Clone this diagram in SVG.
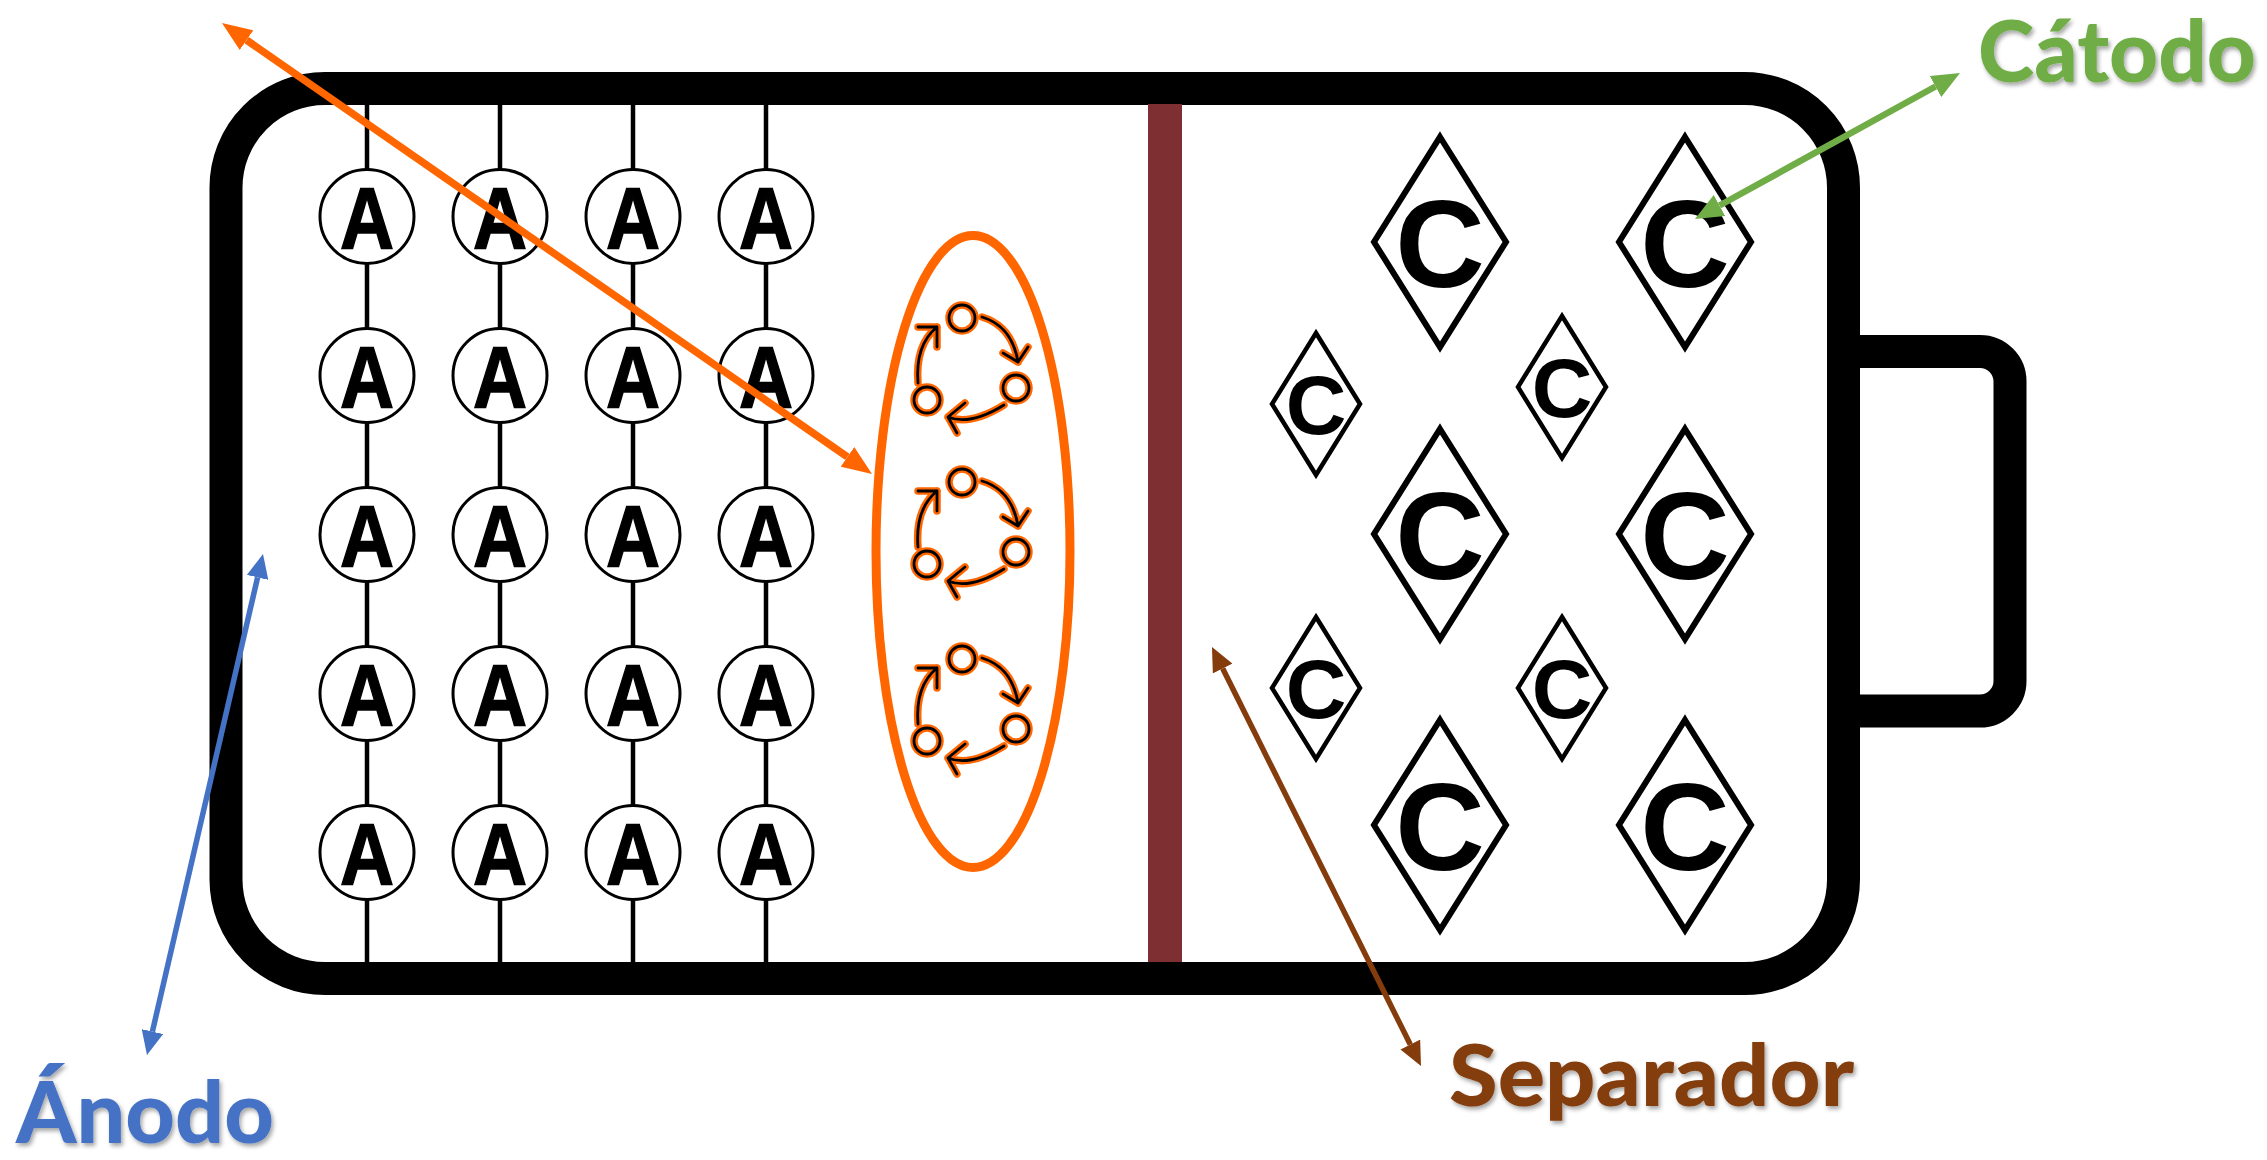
<svg xmlns="http://www.w3.org/2000/svg" xmlns:xlink="http://www.w3.org/1999/xlink" width="2267" height="1160" viewBox="0 0 2267 1160">
<style>
.wall{fill:#fff;stroke:#000;stroke-width:33}
.term{fill:none;stroke:#000;stroke-width:33}
.wire{stroke:#000;stroke-width:4.5}
.acirc{fill:#fff;stroke:#000;stroke-width:3}
.A{font-family:"Liberation Sans",Arial,sans-serif;font-weight:700;font-size:88px;text-anchor:middle;fill:#000;stroke:#000;stroke-width:1.5}
.dL{fill:#fff;stroke:#000;stroke-width:6}
.dS{fill:#fff;stroke:#000;stroke-width:4.5}
.CL{font-family:"Liberation Sans",Arial,sans-serif;font-weight:700;font-size:124px;text-anchor:middle;fill:#000}
.CS{font-family:"Liberation Sans",Arial,sans-serif;font-weight:700;font-size:84px;text-anchor:middle;fill:#000}
.lbl{font-family:Lato,"Open Sans",sans-serif;font-weight:900;filter:url(#sh)}
.conn line{fill:none}
</style>
<defs>
<filter id="sh" x="-10%" y="-20%" width="130%" height="160%">
<feDropShadow dx="2" dy="3" stdDeviation="2" flood-color="#000" flood-opacity="0.35"/>
</filter>
<marker id="mo" markerUnits="userSpaceOnUse" viewBox="0 0 30 24" refX="0" refY="12" markerWidth="30" markerHeight="24" orient="auto-start-reverse"><path d="M0,0 L30,12 L0,24 z" fill="#FF6600"/></marker>
<marker id="mb" markerUnits="userSpaceOnUse" viewBox="0 0 24 22" refX="0" refY="11" markerWidth="24" markerHeight="22" orient="auto-start-reverse"><path d="M0,0 L24,11 L0,22 z" fill="#4472C4"/></marker>
<marker id="mr" markerUnits="userSpaceOnUse" viewBox="0 0 24 22" refX="0" refY="11" markerWidth="24" markerHeight="22" orient="auto-start-reverse"><path d="M0,0 L24,11 L0,22 z" fill="#843C0C"/></marker>
<marker id="mg" markerUnits="userSpaceOnUse" viewBox="0 0 28 24" refX="0" refY="12" markerWidth="28" markerHeight="24" orient="auto-start-reverse"><path d="M0,0 L28,12 L0,24 z" fill="#70AD47"/></marker>
<g id="cyc" fill="none" stroke-linecap="round" stroke-linejoin="round">
<circle cx="0" cy="0" r="13"/>
<circle cx="54" cy="70" r="13"/>
<circle cx="-35" cy="82" r="13"/>
<path d="M20,-1 Q50,8 56,44 M41,35 L56,44 L66,29"/>
<path d="M42,87 Q8,108 -14,99 M3,85 L-14,99 L-5,115"/>
<path d="M-44,65 Q-47,27 -25,9 M-44,9 L-25,9 L-25,29"/>
</g>
</defs>

<g id="battery">
<path class="term" d="M1844,351.5 H1980 A30,30 0 0 1 2010,381.5 V681 A30,30 0 0 1 1980,711 H1844"/>
<rect class="wall" x="226" y="88.5" width="1617.5" height="890" rx="99" ry="99"/>
</g>

<g id="anode">
<line class="wire" x1="367" y1="104" x2="367" y2="963"/>
<line class="wire" x1="500" y1="104" x2="500" y2="963"/>
<line class="wire" x1="633" y1="104" x2="633" y2="963"/>
<line class="wire" x1="766" y1="104" x2="766" y2="963"/>
</g>
<g id="a11" transform="translate(367,216.5)"><circle class="acirc" r="47"/><text class="A" y="31" transform="scale(0.85,1)">A</text></g>
<g id="a12" transform="translate(500,216.5)"><circle class="acirc" r="47"/><text class="A" y="31" transform="scale(0.85,1)">A</text></g>
<g id="a13" transform="translate(633,216.5)"><circle class="acirc" r="47"/><text class="A" y="31" transform="scale(0.85,1)">A</text></g>
<g id="a14" transform="translate(766,216.5)"><circle class="acirc" r="47"/><text class="A" y="31" transform="scale(0.85,1)">A</text></g>
<g id="a21" transform="translate(367,375.5)"><circle class="acirc" r="47"/><text class="A" y="31" transform="scale(0.85,1)">A</text></g>
<g id="a22" transform="translate(500,375.5)"><circle class="acirc" r="47"/><text class="A" y="31" transform="scale(0.85,1)">A</text></g>
<g id="a23" transform="translate(633,375.5)"><circle class="acirc" r="47"/><text class="A" y="31" transform="scale(0.85,1)">A</text></g>
<g id="a24" transform="translate(766,375.5)"><circle class="acirc" r="47"/><text class="A" y="31" transform="scale(0.85,1)">A</text></g>
<g id="a31" transform="translate(367,534.5)"><circle class="acirc" r="47"/><text class="A" y="31" transform="scale(0.85,1)">A</text></g>
<g id="a32" transform="translate(500,534.5)"><circle class="acirc" r="47"/><text class="A" y="31" transform="scale(0.85,1)">A</text></g>
<g id="a33" transform="translate(633,534.5)"><circle class="acirc" r="47"/><text class="A" y="31" transform="scale(0.85,1)">A</text></g>
<g id="a34" transform="translate(766,534.5)"><circle class="acirc" r="47"/><text class="A" y="31" transform="scale(0.85,1)">A</text></g>
<g id="a41" transform="translate(367,693.5)"><circle class="acirc" r="47"/><text class="A" y="31" transform="scale(0.85,1)">A</text></g>
<g id="a42" transform="translate(500,693.5)"><circle class="acirc" r="47"/><text class="A" y="31" transform="scale(0.85,1)">A</text></g>
<g id="a43" transform="translate(633,693.5)"><circle class="acirc" r="47"/><text class="A" y="31" transform="scale(0.85,1)">A</text></g>
<g id="a44" transform="translate(766,693.5)"><circle class="acirc" r="47"/><text class="A" y="31" transform="scale(0.85,1)">A</text></g>
<g id="a51" transform="translate(367,852.5)"><circle class="acirc" r="47"/><text class="A" y="31" transform="scale(0.85,1)">A</text></g>
<g id="a52" transform="translate(500,852.5)"><circle class="acirc" r="47"/><text class="A" y="31" transform="scale(0.85,1)">A</text></g>
<g id="a53" transform="translate(633,852.5)"><circle class="acirc" r="47"/><text class="A" y="31" transform="scale(0.85,1)">A</text></g>
<g id="a54" transform="translate(766,852.5)"><circle class="acirc" r="47"/><text class="A" y="31" transform="scale(0.85,1)">A</text></g>

<g id="electrolyte">
<ellipse cx="973" cy="551.5" rx="97" ry="316" fill="none" stroke="#FF6600" stroke-width="9"/>
<g transform="translate(962,318)"><use xlink:href="#cyc" href="#cyc" stroke="#FF6600" stroke-width="7.5"/><use xlink:href="#cyc" href="#cyc" stroke="#000" stroke-width="2.8"/></g>
<g transform="translate(962,482)"><use xlink:href="#cyc" href="#cyc" stroke="#FF6600" stroke-width="7.5"/><use xlink:href="#cyc" href="#cyc" stroke="#000" stroke-width="2.8"/></g>
<g transform="translate(962,659)"><use xlink:href="#cyc" href="#cyc" stroke="#FF6600" stroke-width="7.5"/><use xlink:href="#cyc" href="#cyc" stroke="#000" stroke-width="2.8"/></g>
</g>

<g id="separator"><rect x="1148" y="104" width="34" height="858" fill="#7E2F32"/></g>

<g id="c1" transform="translate(1440,242)"><polygon class="dL" points="0,-105 66,0 0,105 -66,0"/><text class="CL" y="45">C</text></g>
<g id="c2" transform="translate(1685,242)"><polygon class="dL" points="0,-105 66,0 0,105 -66,0"/><text class="CL" y="45">C</text></g>
<g id="c3" transform="translate(1440,534)"><polygon class="dL" points="0,-105 66,0 0,105 -66,0"/><text class="CL" y="45">C</text></g>
<g id="c4" transform="translate(1685,534)"><polygon class="dL" points="0,-105 66,0 0,105 -66,0"/><text class="CL" y="45">C</text></g>
<g id="c5" transform="translate(1440,825)"><polygon class="dL" points="0,-105 66,0 0,105 -66,0"/><text class="CL" y="45">C</text></g>
<g id="c6" transform="translate(1685,825)"><polygon class="dL" points="0,-105 66,0 0,105 -66,0"/><text class="CL" y="45">C</text></g>
<g id="c7" transform="translate(1316,404)"><polygon class="dS" points="0,-71 44,0 0,71 -44,0"/><text class="CS" y="30">C</text></g>
<g id="c8" transform="translate(1562,387)"><polygon class="dS" points="0,-71 44,0 0,71 -44,0"/><text class="CS" y="30">C</text></g>
<g id="c9" transform="translate(1316,688)"><polygon class="dS" points="0,-71 44,0 0,71 -44,0"/><text class="CS" y="30">C</text></g>
<g id="c10" transform="translate(1562,688)"><polygon class="dS" points="0,-71 44,0 0,71 -44,0"/><text class="CS" y="30">C</text></g>

<g id="connectors" class="conn">
<line x1="246.6" y1="40.1" x2="847.4" y2="456.9" stroke="#FF6600" stroke-width="7.5" marker-start="url(#mo)" marker-end="url(#mo)"/>
<line x1="257.6" y1="577.4" x2="152.4" y2="1031.6" stroke="#4472C4" stroke-width="5.5" marker-start="url(#mb)" marker-end="url(#mb)"/>
<line x1="1222.7" y1="668.5" x2="1410.3" y2="1044.5" stroke="#843C0C" stroke-width="5.5" marker-start="url(#mr)" marker-end="url(#mr)"/>
<line x1="1719.5" y1="205.5" x2="1935.5" y2="86.5" stroke="#70AD47" stroke-width="6.5" marker-start="url(#mg)" marker-end="url(#mg)"/>
</g>

<g id="label-catodo"><text class="lbl" x="1978" y="82" font-size="86" fill="#70AD47" textLength="278" lengthAdjust="spacingAndGlyphs">Cátodo</text></g>
<g id="label-anodo"><text class="lbl" x="16" y="1143" font-size="86" fill="#4472C4" textLength="258" lengthAdjust="spacingAndGlyphs">Ánodo</text></g>
<g id="label-separador"><text class="lbl" x="1449" y="1106" font-size="85" fill="#843C0C" textLength="405" lengthAdjust="spacingAndGlyphs">Separador</text></g>
</svg>
